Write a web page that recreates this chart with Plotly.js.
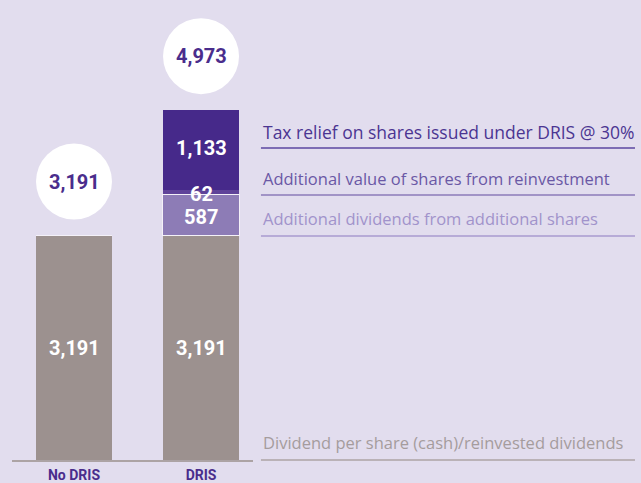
<!DOCTYPE html>
<html>
<head>
<meta charset="utf-8">
<script src="https://cdn.plot.ly/plotly-3.0.1.min.js"></script>
<style>
html,body{margin:0;padding:0;background:#E2DDEE;}
#chart{width:641px;height:483px;}
</style>
</head>
<body>
<div id="chart"></div>
<script>
// Data
const categories = ["No DRIS", "DRIS"];
const dividendCash = [3191, 3191];
const additionalDividends = [0, 587];
const additionalValue = [0, 62];
const taxRelief = [0, 1133];
const totals = [3191, 4973];
const seriesNames = [
  "Dividend per share (cash)/reinvested dividends",
  "Additional dividends from additional shares",
  "Additional value of shares from reinvestment",
  "Tax relief on shares issued under DRIS @ 30%"
];

const xIdx = [0, 1];
const fmt = v => v.toLocaleString("en-US");

const colGrey = "#9C918F";
const colLight = "#8D7CB6";
const colMid = "#5F4399";
const colDark = "#46298A";
const bg = "#E2DDEE";

const barW = 0.6;
function barTrace(vals, color, name, lineW) {
  return {
    type: "bar", x: xIdx, y: vals, name: name, width: barW,
    marker: {color: color, line: {width: lineW || 0, color: "#F4F1F8"}},
    hoverinfo: "skip", showlegend: false
  };
}
const traces = [
  barTrace(dividendCash, colGrey, seriesNames[0]),
  barTrace(additionalDividends, colLight, seriesNames[1], 1),
  barTrace(additionalValue, colMid, seriesNames[2]),
  barTrace(taxRelief, colDark, seriesNames[3])
];

const annotations = [];
const shapes = [];
const labelFont = {family: "Roboto, sans-serif", size: 20, color: "#FFFFFF", weight: "bold"};

// segment labels
xIdx.forEach(i => {
  annotations.push({x: i, y: dividendCash[i] / 2, xref: "x", yref: "y", text: "<b>" + fmt(dividendCash[i]) + "</b>", showarrow: false, font: labelFont});
});
// DRIS additional segments
{
  const i = 1;
  let base = dividendCash[i];
  annotations.push({x: i, y: base + additionalDividends[i] / 2, xref: "x", yref: "y", text: "<b>" + fmt(additionalDividends[i]) + "</b>", showarrow: false, font: labelFont, yshift: -2});
  base += additionalDividends[i];
  annotations.push({x: i, y: base + additionalValue[i] / 2, xref: "x", yref: "y", text: "<b>" + fmt(additionalValue[i]) + "</b>", showarrow: false, font: labelFont, yshift: -2});
  base += additionalValue[i];
  annotations.push({x: i, y: base + taxRelief[i] / 2, xref: "x", yref: "y", text: "<b>" + fmt(taxRelief[i]) + "</b>", showarrow: false, font: labelFont, yshift: 2});
}

// total circles
xIdx.forEach(i => {
  shapes.push({type: "circle", xref: "x", yref: "y", xsizemode: "pixel", ysizemode: "pixel",
    xanchor: i, yanchor: totals[i], x0: -38, x1: 38, y0: 16, y1: 92,
    fillcolor: "#FFFFFF", line: {width: 0}, layer: "above"});
  annotations.push({x: i, y: totals[i], xref: "x", yref: "y", yshift: 54,
    text: "<b>" + fmt(totals[i]) + "</b>", showarrow: false,
    font: {family: "Roboto, sans-serif", size: 20, color: "#4A2D8C", weight: "bold"}});
});

// side legend (text + underline), in paper coords
const legendItems = [
  {name: seriesNames[3], ty: 0.713, ly: 0.678, tc: "#4B3592", lc: "#5B46A1", fs: 17.5},
  {name: seriesNames[2], ty: 0.613, ly: 0.576, tc: "#6A58A5", lc: "#8B7AB9", fs: 16.5},
  {name: seriesNames[1], ty: 0.526, ly: 0.487, tc: "#A193CB", lc: "#A89ACF", fs: 16.5},
  {name: seriesNames[0], ty: 0.037, ly: 0.0, tc: "#A59C9D", lc: "#ACA3A4", fs: 16.5}
];
legendItems.forEach(it => {
  annotations.push({xref: "paper", yref: "paper", x: 1.035, y: it.ty, xanchor: "left", yanchor: "middle",
    text: it.name, showarrow: false, font: {family: "'Open Sans', sans-serif", size: it.fs, color: it.tc}});
  shapes.push({type: "line", xref: "paper", yref: "paper", x0: 1.033, x1: 2.585, y0: it.ly, y1: it.ly,
    line: {color: it.lc, width: 1.5}});
});

const layout = {
  width: 641, height: 483,
  margin: {l: 12, r: 388, t: 0, b: 23, pad: 0},
  paper_bgcolor: bg, plot_bgcolor: bg,
  barmode: "stack", bargap: 0,
  showlegend: false,
  xaxis: {
    range: [-0.488, 1.409], tickvals: xIdx, ticktext: categories.map(c => "<b>" + c + "</b>"),
    showgrid: false, zeroline: false, showline: true, linecolor: "#ACA3A4", linewidth: 1.5,
    ticks: "", ticklabelstandoff: 2,
    tickfont: {family: "Roboto, sans-serif", size: 14, color: "#4A2D8C"}, fixedrange: true
  },
  yaxis: {
    range: [0, 6540], showgrid: false, zeroline: false, showline: false, showticklabels: false, ticks: "", fixedrange: true
  },
  annotations: annotations,
  shapes: shapes
};

Plotly.newPlot("chart", traces, layout, {displayModeBar: false, staticPlot: true});
</script>
</body>
</html>
